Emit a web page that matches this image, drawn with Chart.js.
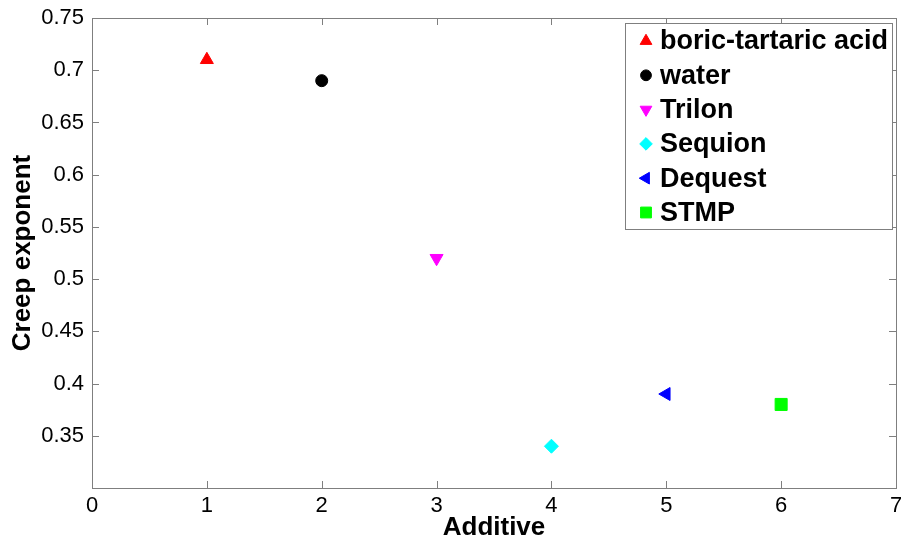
<!DOCTYPE html>
<html>
<head>
<meta charset="utf-8">
<script src="https://cdn.jsdelivr.net/npm/chart.js@4.4.1/dist/chart.umd.min.js"></script>
<style>
    html, body { margin: 0; padding: 0; background: #fff; }
    canvas { display: block; }
</style>
</head>
<body>
<canvas id="creepChart" width="901" height="541"></canvas>
<script>
// Data
const additiveNames = ['boric-tartaric acid', 'water', 'Trilon', 'Sequion', 'Dequest', 'STMP'];
const additiveIndex = [1, 2, 3, 4, 5, 6];
const creepExponent = [0.71, 0.69, 0.52, 0.34, 0.39, 0.38];
const xTicks = [0, 1, 2, 3, 4, 5, 6, 7];
const yTicks = [0.3, 0.35, 0.4, 0.45, 0.5, 0.55, 0.6, 0.65, 0.7, 0.75];

// Marker styles (MATLAB-like)
const markerColors = ['#ff0000', '#000000', '#ff00ff', '#00ffff', '#0000ff', '#00ff00'];
const markerStyles = ['triangle', 'circle', 'triangle', 'rectRot', 'triangle', 'rect'];
const markerRotation = [0, 0, 180, 0, 270, 0];
const markerRadius = [7.5, 6, 7.5, 7, 7.5, 8.5];

const FONT = "'Liberation Sans', Arial, Helvetica, sans-serif";
const BOX_COLOR = '#7f7f7f';

// One dataset per additive so every marker gets its own style
const datasets = additiveNames.map(function (name, i) {
    return {
        label: name,
        data: [{ x: additiveIndex[i], y: creepExponent[i] }],
        pointStyle: markerStyles[i],
        rotation: markerRotation[i],
        radius: markerRadius[i],
        backgroundColor: markerColors[i],
        borderColor: markerColors[i],
        borderWidth: 1
    };
});

// Axes box with inward ticks on all four sides
const boxPlugin = {
    id: 'boxPlugin',
    afterDraw(chart) {
        const ctx = chart.ctx;
        const area = chart.chartArea;
        const xs = chart.scales.x;
        const ys = chart.scales.y;
        const tick = 7;
        ctx.save();
        ctx.strokeStyle = BOX_COLOR;
        ctx.lineWidth = 1;
        ctx.beginPath();
        xTicks.forEach(function (v) {
            const px = Math.round(xs.getPixelForValue(v)) + 0.5;
            ctx.moveTo(px, area.bottom);
            ctx.lineTo(px, area.bottom - tick);
            ctx.moveTo(px, area.top);
            ctx.lineTo(px, area.top + tick);
        });
        yTicks.forEach(function (v) {
            const py = Math.round(ys.getPixelForValue(v)) + 0.5;
            ctx.moveTo(area.left, py);
            ctx.lineTo(area.left + tick, py);
            ctx.moveTo(area.right, py);
            ctx.lineTo(area.right - tick, py);
        });
        ctx.stroke();
        ctx.strokeRect(Math.round(area.left) + 0.5, Math.round(area.top) + 0.5,
            Math.round(area.right - area.left), Math.round(area.bottom - area.top));
        ctx.restore();
    }
};

// Legend box in the upper right corner, like MATLAB's 'NorthEast'
const legendPlugin = {
    id: 'legendPlugin',
    afterDraw(chart) {
        const ctx = chart.ctx;
        const left = 625, top = 23, width = 267, height = 206;
        const rowGap = 34.3;
        ctx.save();
        ctx.fillStyle = '#fff';
        ctx.fillRect(left, top, width, height);
        ctx.strokeStyle = BOX_COLOR;
        ctx.lineWidth = 1;
        ctx.strokeRect(left + 0.5, top + 0.5, width, height);

        ctx.font = 'bold 27px ' + FONT;
        ctx.textBaseline = 'middle';
        ctx.textAlign = 'left';
        chart.data.datasets.forEach(function (ds, i) {
            const cy = top + 18 + i * rowGap;
            ctx.fillStyle = ds.backgroundColor;
            ctx.strokeStyle = ds.borderColor;
            Chart.helpers.drawPoint(ctx, {
                pointStyle: ds.pointStyle,
                rotation: ds.rotation,
                radius: ds.radius * 0.9,
                borderWidth: 1
            }, left + 21, cy);
            ctx.fillStyle = '#000';
            ctx.fillText(ds.label, left + 35, cy + 1);
        });
        ctx.restore();
    }
};

const ctx = document.getElementById('creepChart').getContext('2d');

new Chart(ctx, {
    type: 'scatter',
    data: { datasets: datasets },
    options: {
        responsive: false,
        animation: false,
        devicePixelRatio: 1,
        events: [],
        layout: {
            autoPadding: false,
            padding: { top: 18, right: 5, left: 0, bottom: 0 }
        },
        plugins: {
            legend: { display: false },
            tooltip: { enabled: false }
        },
        scales: {
            x: {
                type: 'linear',
                min: 0,
                max: 7,
                afterBuildTicks(scale) {
                    scale.ticks = xTicks.map(function (v) { return { value: v }; });
                },
                afterFit(scale) {
                    scale.height = 53;
                    scale.paddingLeft = 0;
                    scale.paddingRight = 0;
                },
                grid: { display: false, drawTicks: false },
                border: { display: false },
                ticks: {
                    color: '#000',
                    padding: 5,
                    font: { family: FONT, size: 22 },
                    callback: function (v) { return String(v); }
                },
                title: {
                    display: true,
                    text: 'Additive',
                    color: '#000',
                    padding: { top: 0, bottom: 0 },
                    font: { family: FONT, size: 26, weight: 'bold', lineHeight: 1 }
                }
            },
            y: {
                type: 'linear',
                min: 0.3,
                max: 0.75,
                afterBuildTicks(scale) {
                    scale.ticks = yTicks.map(function (v) { return { value: v }; });
                },
                afterFit(scale) {
                    scale.width = 92;
                    scale.paddingTop = 0;
                    scale.paddingBottom = 0;
                },
                grid: { display: false, drawTicks: false },
                border: { display: false },
                ticks: {
                    color: '#000',
                    padding: 8,
                    font: { family: FONT, size: 22 },
                    callback: function (v) {
                        // the bottom limit is not labelled in the original
                        if (Math.abs(v - 0.3) < 1e-9) return '';
                        return String(Number(v.toFixed(2)));
                    }
                },
                title: {
                    display: true,
                    text: 'Creep exponent',
                    color: '#000',
                    padding: { top: 7, bottom: 0 },
                    font: { family: FONT, size: 26, weight: 'bold' }
                }
            }
        }
    },
    plugins: [boxPlugin, legendPlugin]
});
</script>
</body>
</html>
